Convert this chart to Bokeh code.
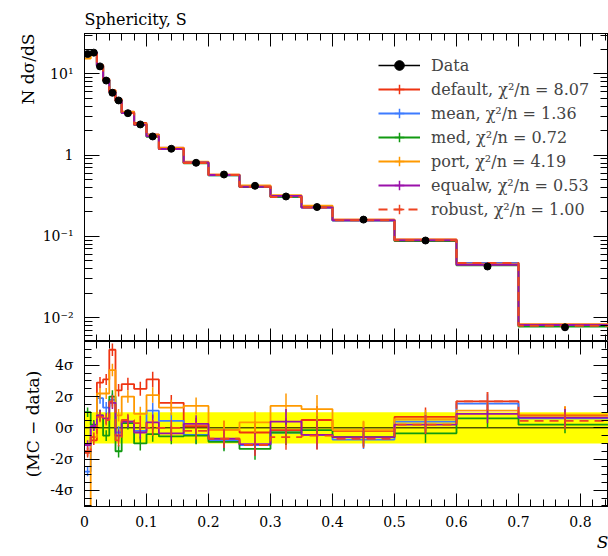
import math
import numpy as np
from bokeh.plotting import figure
from bokeh.layouts import column
from bokeh.models import (LinearAxis, Range1d, FixedTicker, Legend, LegendItem, Title,
                          BoxAnnotation, Span, CustomJSTickFormatter)
from bokeh.embed import file_html
from bokeh.resources import INLINE

# ---------------- data ----------------
bin_edges = [0.0, 0.01, 0.02, 0.03, 0.04, 0.05, 0.06, 0.08, 0.10, 0.12, 0.16,
             0.20, 0.25, 0.30, 0.35, 0.40, 0.50, 0.60, 0.70, 0.85]
data_values = [17.6, 18.3, 12.4, 8.3, 5.87, 4.72, 3.29, 2.39, 1.70, 1.20, 0.806,
               0.578, 0.42, 0.31, 0.23, 0.161, 0.089, 0.0426, 0.0076]
data_rel_errors = [0.017, 0.015, 0.015, 0.015, 0.015, 0.016, 0.016, 0.017, 0.018, 0.018,
                   0.020, 0.022, 0.025, 0.028, 0.030, 0.030, 0.040, 0.060, 0.100]

mc_names = ["default", "mean", "med", "port", "equalw", "robust"]
mc_chi2 = ["8.07", "1.36", "0.72", "4.19", "0.53", "1.00"]

# (MC - data)/sigma per bin
dev_default = [-1.6, -0.8, 2.9, 3.1, 5.0, 2.4, 2.8, 2.5, 3.1, 1.6, 0.1, -0.15, -0.3, -0.15, 0.5, -0.2, 0.7, 1.7, 0.8]
dev_mean = [-2.8, 0.1, 1.9, 1.3, 1.8, -0.3, 0.4, -0.2, 1.1, 0.45, -0.45, -0.8, -1.1, -0.3, -0.45, -0.75, 0.4, 1.55, 0.6]
dev_med = [1.0, 0.2, 0.8, -0.5, 2.0, -1.5, 0.3, -1.0, -0.4, -0.55, -0.5, -0.9, -1.35, -0.3, -0.15, -0.6, -0.35, 0.6, 0.2]
dev_port = [-7.0, -0.6, 2.2, 2.2, 3.7, 0.8, 2.0, 0.9, 2.1, 1.3, 1.4, -0.15, 0.35, 1.4, 1.2, -0.15, 0.55, 1.1, 0.85]
dev_equalw = [-1.1, 0.1, 0.8, 0.6, 1.6, -0.5, 0.4, -0.3, 0.35, -0.35, 0.25, -0.7, -1.05, 0.4, -0.45, -0.6, 0.2, 0.9, 0.65]
dev_robust = [-1.5, -0.6, 0.7, 0.5, 1.7, -0.8, 0.5, 0.3, 0.0, 0.0, -0.2, -0.7, -1.1, -0.6, -0.5, -0.7, 0.2, 1.7, 0.45]
mc_dev_errors = [0.3, 0.3, 0.35, 0.35, 0.4, 0.4, 0.4, 0.45, 0.5, 0.5, 0.55, 0.6, 0.7, 0.8, 0.9, 0.6, 0.6, 0.6, 0.55]

x_tick_values = [0.0, 0.1, 0.2, 0.3, 0.4, 0.5, 0.6, 0.7, 0.8]
x_tick_labels = ["0", "0.1", "0.2", "0.3", "0.4", "0.5", "0.6", "0.7", "0.8"]
log_tick_values = [0.01, 0.1, 1.0, 10.0]
log_tick_labels = ["10\u207b\u00b2", "10\u207b\u00b9", "1", "10\u00b9"]
ratio_tick_values = [-4, -2, 0, 2, 4]
ratio_tick_labels = ["-4\u03c3", "-2\u03c3", "0\u03c3", "2\u03c3", "4\u03c3"]

title_text = "Sphericity, S"
ylabel_top = "N d\u03c3/dS"
ylabel_bot = "(MC \u2212 data)"
xlabel = "S"

# ---------------- style ----------------
FONT = "DejaVu Serif"
mc_colors = ["#EE3311", "#3D7BFF", "#119A11", "#FF9900", "#9A11AA", "#EE4422"]
mc_dashes = ["solid", "solid", "solid", "solid", "solid", "9 6"]

W = 608
LEFT = 84
TOP_H, TOP_BT = 341, 33
BOT_H, BOT_BB = 215, 50
FRAME_W = W - LEFT
XMAX = FRAME_W / 620.0

centers = [(a + b) / 2 for a, b in zip(bin_edges[:-1], bin_edges[1:])]
x_minor = [round(0.02 * i, 4) for i in range(0, 43)]
log_minor = [m * 10.0 ** k for k in range(-3, 2) for m in range(2, 10)]
ratio_minor = [-5.0 + 0.5 * i for i in range(22)]
nan1 = np.array([np.nan])


def fmt(vals, labs):
    return CustomJSTickFormatter(args=dict(vals=vals, labs=labs), code="""
for (let i = 0; i < vals.length; i++) {
  if (Math.abs(vals[i] - tick) <= 1e-6 * Math.max(1e-3, Math.abs(vals[i]))) return labs[i];
}
return "";
""")


def add_axis(p, side, ticks, minor, major_len, minor_len, labels=None, size="14px", standoff=10):
    ax = LinearAxis(ticker=FixedTicker(ticks=ticks, minor_ticks=minor))
    ax.major_tick_in = major_len
    ax.major_tick_out = 0
    ax.minor_tick_in = minor_len
    ax.minor_tick_out = 0
    ax.axis_line_color = "black"
    ax.major_tick_line_color = "black"
    ax.minor_tick_line_color = "black"
    if labels is None:
        ax.formatter = fmt([], [])
        ax.major_label_text_font_size = "0px"
        ax.major_label_standoff = 0
    else:
        ax.formatter = fmt(ticks, labels)
        ax.major_label_text_font = FONT
        ax.major_label_text_font_size = size
        ax.major_label_text_color = "black"
        ax.major_label_standoff = standoff
    p.add_layout(ax, side)
    return ax


def style_fig(p):
    p.outline_line_color = "black"
    p.xgrid.grid_line_color = None
    p.ygrid.grid_line_color = None
    p.background_fill_color = "white"
    p.border_fill_color = "white"


# ---------------- top panel ----------------
top = figure(width=W, height=TOP_H, x_range=Range1d(0, XMAX), y_range=Range1d(0.00508, 31.5),
             y_axis_type="log", x_axis_location=None, y_axis_location=None,
             output_backend="svg", toolbar_location=None,
             min_border_left=LEFT, min_border_right=0, min_border_top=TOP_BT, min_border_bottom=0)
style_fig(top)
top.title = Title(text=title_text, align="left", text_font=FONT, text_font_size="16px",
                  text_font_style="normal", text_color="black", standoff=10)

add_axis(top, "left", log_tick_values, log_minor, 15, 8, log_tick_labels, "14px", 11)
add_axis(top, "right", log_tick_values, log_minor, 15, 8)
add_axis(top, "above", x_tick_values, x_minor, 13, 7)
add_axis(top, "below", x_tick_values, x_minor, 13, 7)
top.add_layout(Title(text=ylabel_top, align="right", text_font=FONT,
                     text_font_size="17px", text_font_style="normal", text_color="black",
                     standoff=4), "left")

devs = [dev_default, dev_mean, dev_med, dev_port, dev_equalw, dev_robust]

# legend helper glyphs (no visible data)
d_line = top.line(x=nan1, y=nan1, line_color="black", line_width=1.5)
d_bar = top.scatter(x=nan1, y=nan1, marker="cross", line_color="black", line_width=1.5)

mc_renderers = []
for name, dev, col, dash in zip(mc_names, devs, mc_colors, mc_dashes):
    vals = [d * (1 + s * e) for d, s, e in zip(data_values, dev, data_rel_errors)]
    r = top.step(x=bin_edges, y=vals + [vals[-1]], mode="after", line_color=col,
                 line_width=2, line_dash=dash)
    c = top.scatter(x=nan1, y=nan1, marker="cross", line_color=col, line_width=1.5)
    mc_renderers.append((r, c))

top.segment(x0=centers, y0=[d * (1 - e) for d, e in zip(data_values, data_rel_errors)],
            x1=centers, y1=[d * (1 + e) for d, e in zip(data_values, data_rel_errors)],
            line_color="black", line_width=1.5)
d_pts = top.scatter(x=centers, y=data_values, marker="circle", size=7,
                    fill_color="black", line_color="black")

legend_items = [LegendItem(label="Data", renderers=[d_line, d_bar, d_pts])]
for name, chi, (r, c) in zip(mc_names, mc_chi2, mc_renderers):
    legend_items.append(LegendItem(label=f"{name}, \u03c7\u00b2/n = {chi}", renderers=[r, c]))

legend = Legend(items=legend_items, location=(294, 120), padding=0, margin=0, spacing=0,
                glyph_width=42, glyph_height=24, label_height=24, label_standoff=11,
                label_text_font=FONT, label_text_font_size="16px",
                border_line_alpha=0, background_fill_alpha=0)
top.add_layout(legend)

# ---------------- ratio panel ----------------
bot = figure(width=W, height=BOT_H, x_range=top.x_range, y_range=Range1d(-5.04, 5.53),
             x_axis_location=None, y_axis_location=None,
             output_backend="svg", toolbar_location=None,
             min_border_left=LEFT, min_border_right=0, min_border_top=0, min_border_bottom=BOT_BB)
style_fig(bot)

add_axis(bot, "left", ratio_tick_values, ratio_minor, 15, 7, ratio_tick_labels, "14px", 11)
add_axis(bot, "right", ratio_tick_values, ratio_minor, 15, 7)
add_axis(bot, "above", x_tick_values, x_minor, 13, 7)
add_axis(bot, "below", x_tick_values, x_minor, 13, 7, x_tick_labels, "14px", 9)
bot.add_layout(Title(text=ylabel_bot, align="center", text_font=FONT,
                     text_font_size="17px", text_font_style="normal", text_color="black",
                     standoff=9), "left")
bot.add_layout(Title(text=xlabel, align="right", text_font=FONT, text_font_size="17px",
                     text_font_style="italic", text_color="black", standoff=0), "below")

bot.add_layout(BoxAnnotation(bottom=-1, top=1, fill_color="#FFFF00", fill_alpha=1.0,
                             line_alpha=0, level="underlay"))
bot.add_layout(Span(location=0, dimension="width", line_color="black", line_width=1,
                    level="underlay"))

for dev, col, dash in zip(devs, mc_colors, mc_dashes):
    bot.step(x=bin_edges, y=dev + [dev[-1]], mode="after", line_color=col,
             line_width=1.8, line_dash=dash)
    bot.segment(x0=centers, y0=[v - e for v, e in zip(dev, mc_dev_errors)],
                x1=centers, y1=[v + e for v, e in zip(dev, mc_dev_errors)],
                line_color=col, line_width=1.5)

layout = column(top, bot, spacing=0)
open("out.html", "w").write(file_html(layout, INLINE))
